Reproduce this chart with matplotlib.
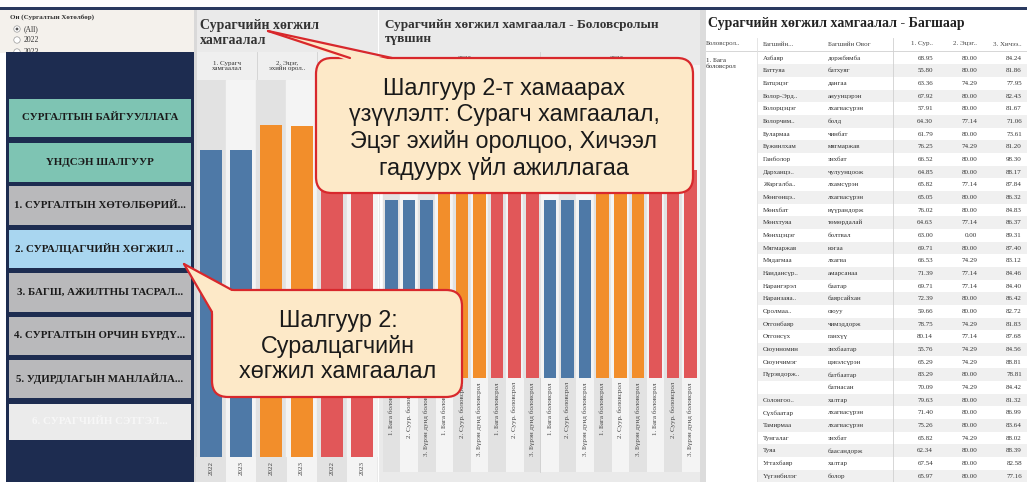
# ------------------------------------------------------------
# Dashboard: Шалгуур 2 - Суралцагчийн хөгжил хамгаалал
# ------------------------------------------------------------
import matplotlib.pyplot as plt
from matplotlib.patches import Rectangle, FancyBboxPatch, Polygon, Circle

W, H = 1027, 482

# -----------------------------
# Data
# -----------------------------
years = ["2022", "2023"]
indicators = ["1. Сурагч\nхамгаалал", "2. Эцэг,\nэхийн орол..", "3. Хичээл\nгадуурх.."]
ind_2022 = [67.2, 72.6, 78.6]
ind_2023 = [67.0, 72.4, 78.4]

levels = ["1. Бага боловсрол", "2. Суур. боловсрол", "3. Бүрэн дунд боловсрол"]
sur_2022 = [67.4, 67.1, 67.3]
ets_2022 = [72.9, 72.5, 72.7]
hich_2022 = [78.8, 78.5, 78.6]
sur_2023 = [67.2, 67.3, 67.1]
ets_2023 = [72.6, 72.8, 72.4]
hich_2023 = [78.4, 78.7, 78.5]

menu_items = ["СУРГАЛТЫН БАЙГУУЛЛАГА", "ҮНДСЭН ШАЛГУУР",
              "1. СУРГАЛТЫН ХӨТӨЛБӨРИЙ...", "2. СУРАЛЦАГЧИЙН ХӨГЖИЛ ...",
              "3. БАГШ, АЖИЛТНЫ ТАСРАЛ...", "4. СУРГАЛТЫН ОРЧИН БҮРДҮ...",
              "5. УДИРДЛАГЫН МАНЛАЙЛА...", "6. СУРАГЧИЙН СЭТГЭЛ..."]

table_level = "1. Бага\nболовсрол"
table_headers = ["Боловсрол..", "Багшийн...", "Багшийн Овог", "1. Сур..", "2. Эцэг..", "3. Хичээ.."]
teacher_names = ["Азбаяр", "Баттуяа", "Батцэцэг", "Болор-Эрд..", "Болорцэцэг", "Болорчим..",
                 "Булармаа", "Бүжинлхам", "Ганболор", "Дарханцэ..", "Жаргалба..", "Мөнгөнцэ..",
                 "Мөнхбат", "Мөнхтуяа", "Мөнхцэцэг", "Мягмаржав", "Мядагмаа", "Наидансүр..",
                 "Нарангэрэл", "Наранзаяа..", "Оролмаа..", "Отгонбаяр", "Отгонсүх", "Оюунномин",
                 "Оюунчимэг", "Пүрэвдорж..", "", "Солонгоо..", "Сүхбаатар", "Тамирмаа",
                 "Тунгалаг", "Туяа", "Угтахбаяр", "Үүгэнбилэг"]
teacher_surnames = ["доржбямба", "батхуяг", "дангаа", "ануунцэрэн", "лхагвасүрэн", "болд",
                    "чинбат", "мягмаржав", "энхбат", "чулуунцоож", "лхамсүрэн", "лхагвасүрэн",
                    "нүүрандорж", "төмөрдалай", "болтвал", "нэгаа", "лхагва", "амарсанаа",
                    "баатар", "баярсайхан", "оюуу", "чимэддорж", "ганхүү", "энхбаатар",
                    "цэвэлсүрэн", "батбаатар", "батнасан", "халтар", "лхагвасүрэн", "лхагвасүрэн",
                    "энхбат", "баасандорж", "халтар", "болор"]
score_sur = [68.95, 55.80, 63.36, 67.92, 57.91, 64.30, 61.79, 76.25, 66.52, 64.85, 65.82, 65.05,
             76.02, 64.63, 63.00, 69.71, 66.53, 71.39, 69.71, 72.39, 59.66, 78.75, 80.14, 55.76,
             65.29, 83.29, 70.09, 79.63, 71.40, 75.26, 65.82, 62.34, 67.54, 65.97]
score_ets = [80.00, 80.00, 74.29, 80.00, 80.00, 77.14, 80.00, 74.29, 80.00, 80.00, 77.14, 80.00,
             80.00, 77.14, 0.00, 80.00, 74.29, 77.14, 77.14, 80.00, 80.00, 74.29, 77.14, 74.29,
             74.29, 80.00, 74.29, 80.00, 80.00, 80.00, 74.29, 80.00, 80.00, 80.00]
score_hich = [84.24, 81.86, 77.95, 82.43, 81.67, 71.06, 73.61, 81.20, 98.30, 88.17, 87.84, 86.32,
              84.83, 86.37, 89.31, 87.40, 83.12, 84.46, 84.40, 86.42, 82.72, 81.83, 87.68, 84.56,
              88.81, 78.81, 84.42, 81.32, 86.99, 83.64, 88.02, 88.39, 82.58, 77.16]

# -----------------------------
# Style
# -----------------------------
colors = ["#4e79a7", "#f28e2b", "#e15759"]
navy = "#1d2c50"
serif = ["Liberation Serif", "DejaVu Serif"]
sans = ["Liberation Sans", "DejaVu Sans"]
cream = "#fde9c8"
red_edge = "#d8282c"


def px(x0, y0, x1, y1):
    return [x0 / W, 1 - y1 / H, (x1 - x0) / W, (y1 - y0) / H]


def box(ax, x0, y0, x1, y1, color, z=1):
    r = Rectangle((x0, y0), x1 - x0, y1 - y0, facecolor=color, edgecolor="none", zorder=z)
    ax.add_patch(r)
    return r


fig = plt.figure(figsize=(W / 100, H / 100), dpi=100)

# background canvas in pixel coordinates
bg = fig.add_axes([0, 0, 1, 1])
bg.set_xlim(0, W)
bg.set_ylim(H, 0)
bg.axis("off")

box(bg, 0, 6.5, W, 9.5, "#2a3a60")

# -----------------------------
# Left menu panel
# -----------------------------
box(bg, 0, 10, 197, 53, "#f4f1ec", z=0.3)
bg.text(10, 17, "Он (Сургалтын Хөтөлбөр)", fontsize=5, weight="bold",
        family=serif, va="center", color="#333")
for y, lab in zip([29, 40, 52], ["(All)", "2022", "2023"]):
    bg.add_patch(Circle((17, y), 3.2, facecolor="white", edgecolor="#999",
                        lw=0.5, zorder=0.5))
    bg.text(24, y, lab, fontsize=5.5, family=serif, va="center",
            color="#333", zorder=0.5)
bg.add_patch(Circle((17, 29), 1.4, facecolor="#555", edgecolor="none", zorder=0.6))

box(bg, 6, 52, 194, 482, navy)
box(bg, 194, 10, 197, 482, "#d9d9d9")

btn_top = [99, 143, 186, 230, 273, 317, 360, 404]
btn_bot = [137, 182, 225, 268, 312, 355, 398, 440]
btn_col = ["#7ec4b3", "#7ec4b3", "#b9b9bb", "#a9d6f0",
           "#b9b9bb", "#b9b9bb", "#b9b9bb", "#ebebeb"]
for lab, t, b, c in zip(menu_items, btn_top, btn_bot, btn_col):
    r = box(bg, 9, t, 191, b, c)
    tc = "#f7f7f7" if c == "#ebebeb" else "#1a1a1a"
    txt = bg.text(100, (t + b) / 2, lab, fontsize=7.8, weight="bold", family=serif,
                  ha="center", va="center", color=tc)
    txt.set_clip_path(r)

# -----------------------------
# Chart panels
# -----------------------------
box(bg, 197, 10, 378, 482, "#eaeaea")
box(bg, 379, 10, 700, 482, "#eaeaea")
box(bg, 700, 10, W, 482, "white")
box(bg, 700, 10, 706, 482, "#dcdcdc")

bg.text(200, 33, "Сурагчийн хөгжил\nхамгаалал", fontsize=10, weight="bold",
        family=serif, va="center", color="#333")
bg.text(385, 32, "Сурагчийн хөгжил хамгаалал - Боловсролын\nтүвшин", fontsize=9.5,
        weight="bold", family=serif, va="center", color="#333")
bg.text(708, 23, "Сурагчийн хөгжил хамгаалал - Багшаар", fontsize=10,
        weight="bold", family=serif, va="center", color="#222")

# header row of first chart
box(bg, 197, 52, 378, 80, "#efefef")
for cx, lab in zip([227, 287, 347], indicators):
    bg.text(cx, 66, lab, fontsize=5, family=serif, ha="center", va="center",
            color="#333", linespacing=1.0)
for x in [257, 317]:
    bg.plot([x, x], [52, 80], color="#d0d0d0", lw=0.6)
bg.plot([197, 378], [80, 80], color="#d0d0d0", lw=0.6)

# header of middle chart
bg.text(465, 59, years[0], fontsize=5, family=serif, ha="center", va="center", color="#333")
bg.text(617, 59, years[1], fontsize=5, family=serif, ha="center", va="center", color="#333")
bg.plot([540, 540], [52, 472], color="#d0d0d0", lw=0.6)

# stripes in label areas
for k in range(6):
    c = "#f4f4f4" if k % 2 else "#e2e2e2"
    box(bg, 211 + 30.2 * k - 15.1, 457, 211 + 30.2 * k + 15.1, 482, c)
for k in range(18):
    c = "#f4f4f4" if k % 2 else "#e2e2e2"
    box(bg, 391.5 + 17.6 * k - 8.8, 378, 391.5 + 17.6 * k + 8.8, 472, c)

# -----------------------------
# Bar chart 1: by indicator and year
# -----------------------------
ax1 = fig.add_axes(px(197, 80, 378, 457))
x1 = list(range(6))
v1 = [v for pair in zip(ind_2022, ind_2023) for v in pair]
c1 = [c for c in colors for _ in years]
for k in x1:
    ax1.axvspan(k - 0.5, k + 0.5, color="#f4f4f4" if k % 2 else "#e2e2e2", zorder=0)
ax1.bar(x1, v1, width=0.73, color=c1, zorder=2)
ax1.set_xlim(-0.46, 5.53)
ax1.set_ylim(0, 82.4)
ax1.set_yticks([])
ax1.set_xticks(x1, labels=years * 3, rotation=90, fontsize=5, family=serif, color="#444")
ax1.tick_params(axis="x", length=0, pad=3)
for s in ax1.spines.values():
    s.set_visible(False)

# -----------------------------
# Bar chart 2: by education level
# -----------------------------
ax2 = fig.add_axes(px(380, 65, 700, 378))
x2 = list(range(18))
v2 = sur_2022 + ets_2022 + hich_2022 + sur_2023 + ets_2023 + hich_2023
c2 = [c for _ in years for c in colors for _ in levels]
for k in x2:
    ax2.axvspan(k - 0.5, k + 0.5, color="#f4f4f4" if k % 2 else "#e2e2e2", zorder=0)
ax2.bar(x2, v2, width=0.71, color=c2, zorder=2)
ax2.set_xlim(-0.65, 17.53)
ax2.set_ylim(0, 118.3)
ax2.set_yticks([])
ax2.set_xticks(x2, labels=levels * 6, rotation=90, fontsize=5, family=serif, color="#444")
ax2.tick_params(axis="x", length=0, pad=3)
for s in ax2.spines.values():
    s.set_visible(False)

# -----------------------------
# Table by teacher
# -----------------------------
row0, step = 58, 12.67
hx = [706, 763, 828, 933, 977, 1022]
for i, (h, x) in enumerate(zip(table_headers, hx)):
    bg.text(x, 44, h, fontsize=5, family=serif, va="center", color="#444",
            ha="left" if i < 3 else "right")
bg.plot([706, W], [51, 51], color="#d0d0d0", lw=0.6)
bg.plot([757, 757], [38, 482], color="#e0e0e0", lw=0.6)
bg.plot([893, 893], [38, 482], color="#d0d0d0", lw=0.6)
bg.text(706, 58, table_level, fontsize=5, family=serif, va="top", color="#333",
        linespacing=1.1)
for i in range(len(teacher_names)):
    y = row0 + step * i
    if i % 2:
        box(bg, 758, y - step / 2, W, y + step / 2, "#f0f0f0")
    bg.text(763, y, teacher_names[i], fontsize=5, family=serif, va="center", color="#333")
    bg.text(828, y, teacher_surnames[i], fontsize=5, family=serif, va="center", color="#333")
    for x, col in zip(hx[3:], [score_sur, score_ets, score_hich]):
        bg.text(x, y, f"{col[i]:.2f}", fontsize=5, family=serif, va="center",
                ha="right", color="#333")

# -----------------------------
# Callouts
# -----------------------------
ov = fig.add_axes([0, 0, 1, 1])
ov.set_xlim(0, W)
ov.set_ylim(H, 0)
ov.axis("off")


def callout(x0, y0, w, h, tip, base_a, base_b, fill_a, fill_b):
    ov.add_patch(FancyBboxPatch((x0, y0), w, h, boxstyle="round,pad=0,rounding_size=16",
                                facecolor=cream, edgecolor=red_edge, lw=1.6, zorder=3))
    ov.add_patch(Polygon([tip, fill_a, fill_b], closed=True, facecolor=cream,
                         edgecolor="none", zorder=4))
    for b in [base_a, base_b]:
        ov.plot([tip[0], b[0]], [tip[1], b[1]], color=red_edge, lw=1.6, zorder=5,
                solid_capstyle="round")


callout(316, 58, 377, 135, (268, 31), (350, 58), (392, 58), (348, 60.5), (394, 60.5))
lines1 = ["Шалгуур 2-т хамаарах", "үзүүлэлт: Сурагч хамгаалал,",
          "Эцэг эхийн оролцоо, Хичээл", "гадуурх үйл ажиллагаа"]
for k, t in enumerate(lines1):
    ov.text(504, 88 + 26.7 * k, t, fontsize=16.8, family=sans, ha="center",
            va="center", color="#1a1a1a", zorder=6)

callout(212, 290, 250, 107, (184, 264), (232, 290), (212, 312), (234, 291.8), (213.8, 314))
lines2 = ["Шалгуур 2:", "Суралцагчийн", "хөгжил хамгаалал"]
for k, t in enumerate(lines2):
    ov.text(338, 321 + 25.5 * k, t, fontsize=16.8, family=sans, ha="center",
            va="center", color="#1a1a1a", zorder=6)

plt.savefig("out.png", dpi=100)
